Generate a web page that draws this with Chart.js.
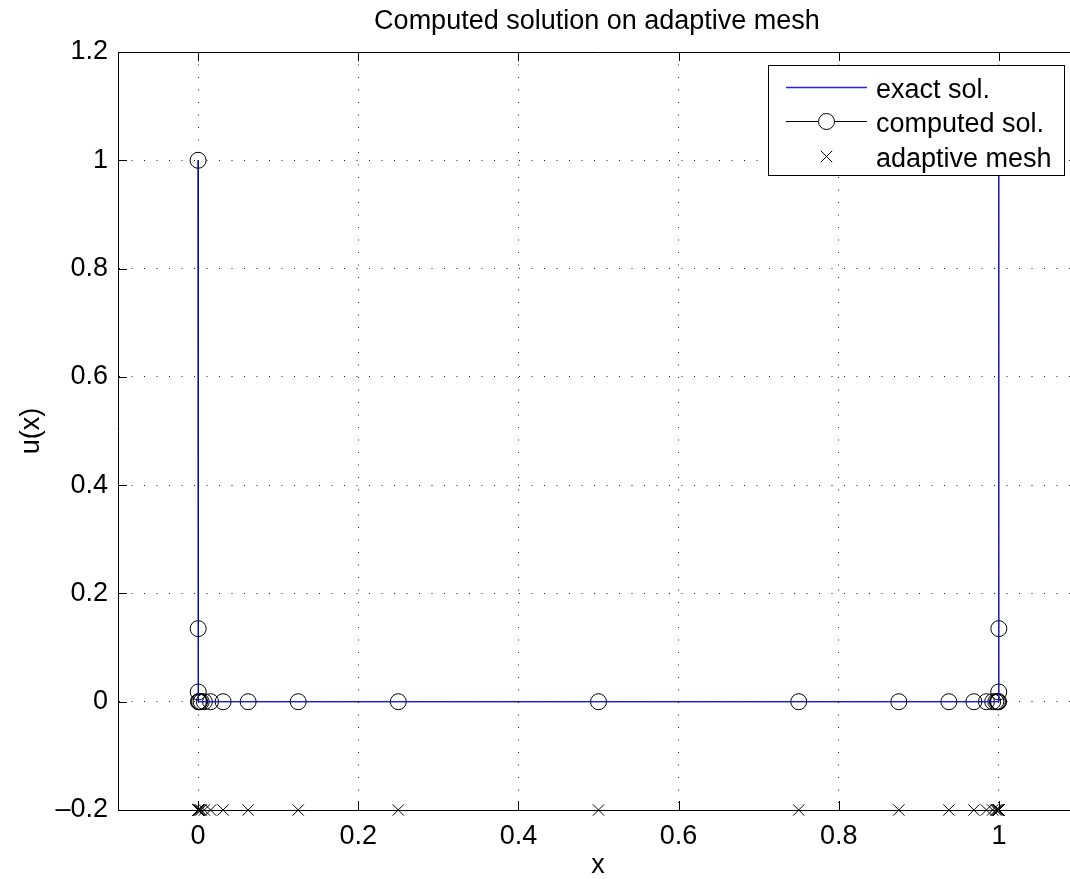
<!DOCTYPE html>
<html>
<head>
<meta charset="utf-8">
<script src="https://cdn.jsdelivr.net/npm/chart.js@4/dist/chart.umd.min.js"></script>
<style>
  html, body { margin: 0; padding: 0; background: #fff; overflow: hidden; }
  canvas { display: block; }
</style>
</head>
<body>
<canvas id="solChart" width="1088" height="879" style="width:1088px;height:879px"></canvas>
<script>
// mesh nodes (dyadic refinement toward both boundary layers)
const meshX = [0, 0.000122, 0.000244, 0.000488, 0.000977, 0.00195, 0.0039, 0.0078, 0.0156, 0.03125, 0.0625, 0.125, 0.25, 0.5,
    0.75, 0.875, 0.9375, 0.96875, 0.9844, 0.9922, 0.9961, 0.99805, 0.99902, 0.99951, 0.999756, 0.999878, 1];
const computedU = [1, 0.135, 0.018, 0, 0, 0, 0, 0, 0, 0, 0, 0, 0, 0,
    0, 0, 0, 0, 0, 0, 0, 0, 0, 0, 0.018, 0.135, 1];
const meshU = [-0.2, -0.2, -0.2, -0.2, -0.2, -0.2, -0.2, -0.2, -0.2, -0.2, -0.2, -0.2, -0.2, -0.2,
    -0.2, -0.2, -0.2, -0.2, -0.2, -0.2, -0.2, -0.2, -0.2, -0.2, -0.2, -0.2, -0.2];
const exactX = [0, 0.0001, 0.5, 0.9999, 1];
const exactU = [1, 0, 0, 0, 1];

const xTicks = [0, 0.2, 0.4, 0.6, 0.8, 1];
const yTicks = [-0.2, 0, 0.2, 0.4, 0.6, 0.8, 1, 1.2];

const FONT = "'Liberation Sans', Arial, sans-serif";
const FS = 27;

const pts = (xs, ys) => xs.map((x, i) => ({x: x, y: ys[i]}));
const fmt = v => v < 0 ? '\u2013' + Math.abs(v) : String(v);

// axes box, inward ticks, title, labels and legend
const decorations = {
    id: 'decorations',
    afterDatasetsDraw(chart) {
        const ctx = chart.ctx;
        const a = chart.chartArea;
        const xs = chart.scales.x, ys = chart.scales.y;
        ctx.save();
        ctx.strokeStyle = '#000';
        ctx.lineWidth = 1;
        ctx.beginPath();
        ctx.moveTo(a.left, a.top + 0.5);
        ctx.lineTo(a.right, a.top + 0.5);
        ctx.moveTo(a.right - 0.5, a.top);
        ctx.lineTo(a.right - 0.5, a.bottom);
        xTicks.forEach(v => {
            const px = Math.round(xs.getPixelForValue(v)) + 0.5;
            ctx.moveTo(px, a.bottom); ctx.lineTo(px, a.bottom - 9);
            ctx.moveTo(px, a.top); ctx.lineTo(px, a.top + 9);
        });
        yTicks.forEach(v => {
            const py = Math.round(ys.getPixelForValue(v)) + 0.5;
            ctx.moveTo(a.left, py); ctx.lineTo(a.left + 9, py);
        });
        ctx.stroke();

        ctx.fillStyle = '#000';
        ctx.font = FS + 'px ' + FONT;
        ctx.textAlign = 'center';
        ctx.textBaseline = 'alphabetic';
        ctx.fillText('Computed solution on adaptive mesh', 597, 29);
        ctx.fillText('x', 598, 873);
        ctx.save();
        ctx.translate(39, (a.top + a.bottom) / 2);
        ctx.rotate(-Math.PI / 2);
        ctx.fillText('u(x)', 0, 0);
        ctx.restore();

        // legend box
        const L = 768, T = 65, R = 1065, B = 176;
        ctx.fillStyle = '#fff';
        ctx.fillRect(L, T, R - L, B - T);
        ctx.strokeStyle = '#000';
        ctx.strokeRect(L + 0.5, T + 0.5, R - L - 1, B - T - 1);
        const rows = [87.5, 121.5, 156.5];
        ctx.beginPath();
        ctx.strokeStyle = '#2020ff';
        ctx.lineWidth = 1.3;
        ctx.moveTo(786, rows[0]); ctx.lineTo(867, rows[0]);
        ctx.stroke();
        ctx.beginPath();
        ctx.strokeStyle = '#000';
        ctx.lineWidth = 1;
        ctx.moveTo(786, rows[1]); ctx.lineTo(818, rows[1]);
        ctx.moveTo(834, rows[1]); ctx.lineTo(867, rows[1]);
        ctx.moveTo(834.5, rows[1]);
        ctx.arc(826.5, rows[1], 8, 0, Math.PI * 2);
        const c = 5.7;
        ctx.moveTo(826.5 - c, rows[2] - c); ctx.lineTo(826.5 + c, rows[2] + c);
        ctx.moveTo(826.5 - c, rows[2] + c); ctx.lineTo(826.5 + c, rows[2] - c);
        ctx.stroke();
        ctx.fillStyle = '#000';
        ctx.textAlign = 'left';
        ctx.fillText('exact sol.', 876, rows[0] + 10);
        ctx.fillText('computed sol.', 876, rows[1] + 10);
        ctx.fillText('adaptive mesh', 876, rows[2] + 10);
        ctx.restore();
    }
};

const gridOpts = {
    color: ctx => (ctx.tick && (ctx.tick.value <= -0.2 || ctx.tick.value >= 1.2)) ? 'rgba(0,0,0,0)' : '#222',
    lineWidth: 1,
    drawTicks: false
};

new Chart(document.getElementById('solChart').getContext('2d'), {
    type: 'scatter',
    data: {
        datasets: [{
            label: 'exact sol.',
            data: pts(exactX, exactU),
            showLine: true,
            borderColor: 'rgba(20,20,255,0.8)',
            borderWidth: 1.2,
            pointRadius: 0,
            clip: false
        }, {
            label: 'computed sol.',
            data: pts(meshX, computedU),
            showLine: true,
            borderColor: '#000',
            borderWidth: 1,
            pointStyle: 'circle',
            pointRadius: 8,
            pointBorderWidth: 1,
            pointBorderColor: '#000',
            pointBackgroundColor: 'rgba(0,0,0,0)',
            clip: false
        }, {
            label: 'adaptive mesh',
            data: pts(meshX, meshU),
            showLine: false,
            pointStyle: 'crossRot',
            pointRadius: 8,
            pointBorderWidth: 1,
            pointBorderColor: '#000',
            clip: false
        }]
    },
    options: {
        responsive: false,
        animation: false,
        devicePixelRatio: 1,
        // the right edge of the axes (x = 1.1) lies just past the visible window
        layout: {padding: {top: 52, right: 2, left: 0, bottom: 0}},
        plugins: {legend: {display: false}, tooltip: {enabled: false}},
        scales: {
            x: {
                type: 'linear',
                min: -0.1,
                max: 1.1,
                afterBuildTicks: s => { s.ticks = xTicks.map(v => ({value: v})); },
                afterFit: s => { s.height = 69; },
                grid: Object.assign({borderDash: [1, 11.5]}, gridOpts),
                border: {display: true, color: '#000', width: 1, dash: [1, 11.5]},
                ticks: {
                    color: '#000', padding: 10, maxRotation: 0,
                    font: {family: FONT, size: FS},
                    callback: v => fmt(v)
                }
            },
            y: {
                type: 'linear',
                min: -0.2,
                max: 1.2,
                afterBuildTicks: s => { s.ticks = yTicks.map(v => ({value: v})); },
                afterFit: s => { s.width = 118; },
                grid: gridOpts,
                border: {display: true, color: '#000', width: 1, dash: [1, 11.5]},
                ticks: {
                    color: '#000', padding: 10,
                    font: {family: FONT, size: FS},
                    callback: v => fmt(v)
                }
            }
        }
    },
    plugins: [decorations]
});
</script>
</body>
</html>
